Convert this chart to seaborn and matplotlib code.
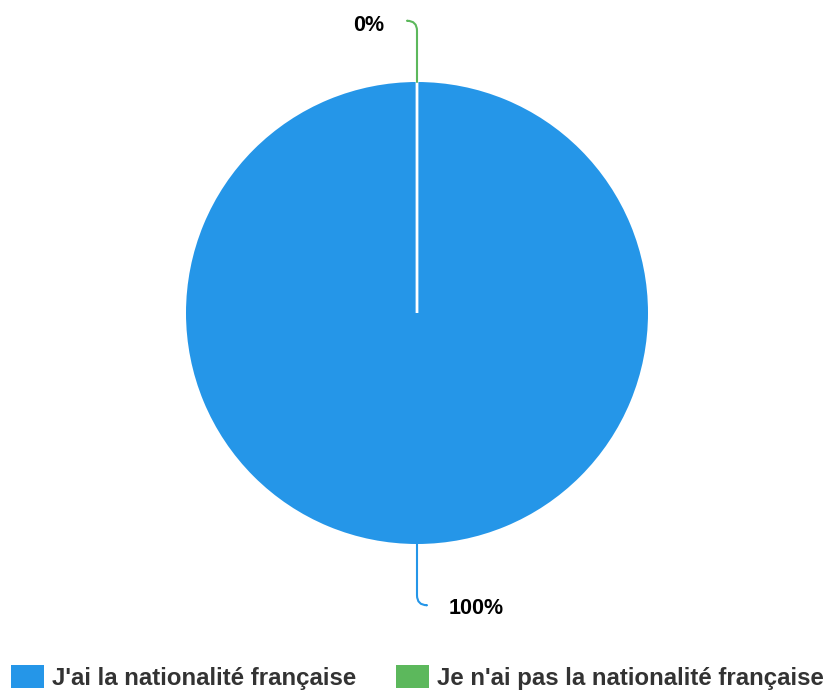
import numpy as np
import matplotlib
matplotlib.use("Agg")
import matplotlib.pyplot as plt
import seaborn as sns
from matplotlib.patches import Patch

sns.set_theme(style="white")
plt.rcParams['font.family'] = ['Liberation Sans', 'DejaVu Sans']

# Data
categories = ["J'ai la nationalité française", "Je n'ai pas la nationalité française"]
values = [100, 0]
pct_labels = ["100%", "0%"]
colors = ['#2596e8', '#5cb85c']

W, H = 830, 693
fig = plt.figure(figsize=(W / 100, H / 100), dpi=100)

# pie: center (417, 313) px, radius 231 px
r_px, cx, cy = 231, 417, H - 313
k = 1.4
ax = fig.add_axes([(cx - r_px * k) / W, (cy - r_px * k) / H,
                   2 * r_px * k / W, 2 * r_px * k / H])

wedges, _ = ax.pie(values, colors=colors, startangle=90, counterclock=False,
                   radius=1, wedgeprops=dict(linewidth=0))
ax.set_xlim(-k, k)
ax.set_ylim(-k, k)
ax.axis('off')

# zero slice shows as a thin white line
wedges[1].set_edgecolor('white')
wedges[1].set_linewidth(2)

# labels with leader lines
total = sum(values)
start = 90
for w, val, lab, col in zip(wedges, values, pct_labels, colors):
    sweep = 360 * val / total
    mid = np.deg2rad(start - sweep / 2)
    start -= sweep
    px, py = np.cos(mid), np.sin(mid)
    sgn = 1 if py > 0 else -1
    # leader end point (bends sideways)
    ex = px - 0.042 * sgn
    ey = py + 0.265 * sgn
    ax.annotate('', xy=(px, py), xytext=(ex, ey),
                arrowprops=dict(arrowstyle='-', color=col, lw=1.5,
                                connectionstyle='angle,angleA=0,angleB=90,rad=10',
                                shrinkA=0, shrinkB=0))
    if sgn > 0:
        ax.text(ex - 0.1, ey - 0.02, lab, ha='right', va='center',
                fontsize=15.5, fontweight='bold', color='black')
    else:
        ax.text(ex + 0.095, ey - 0.015, lab, ha='left', va='center',
                fontsize=15.5, fontweight='bold', color='black')

handles = [Patch(facecolor=c, edgecolor='none') for c in colors]
leg = fig.legend(handles, categories, loc='lower center', ncol=2,
                 bbox_to_anchor=(0.503, -0.027), frameon=False,
                 prop=dict(size=17.3, weight='bold'),
                 handlelength=1.37, handleheight=1.1, handletextpad=0.35,
                 columnspacing=1.65)
for t in leg.get_texts():
    t.set_color('#333333')

fig.savefig('out.png', dpi=100)
